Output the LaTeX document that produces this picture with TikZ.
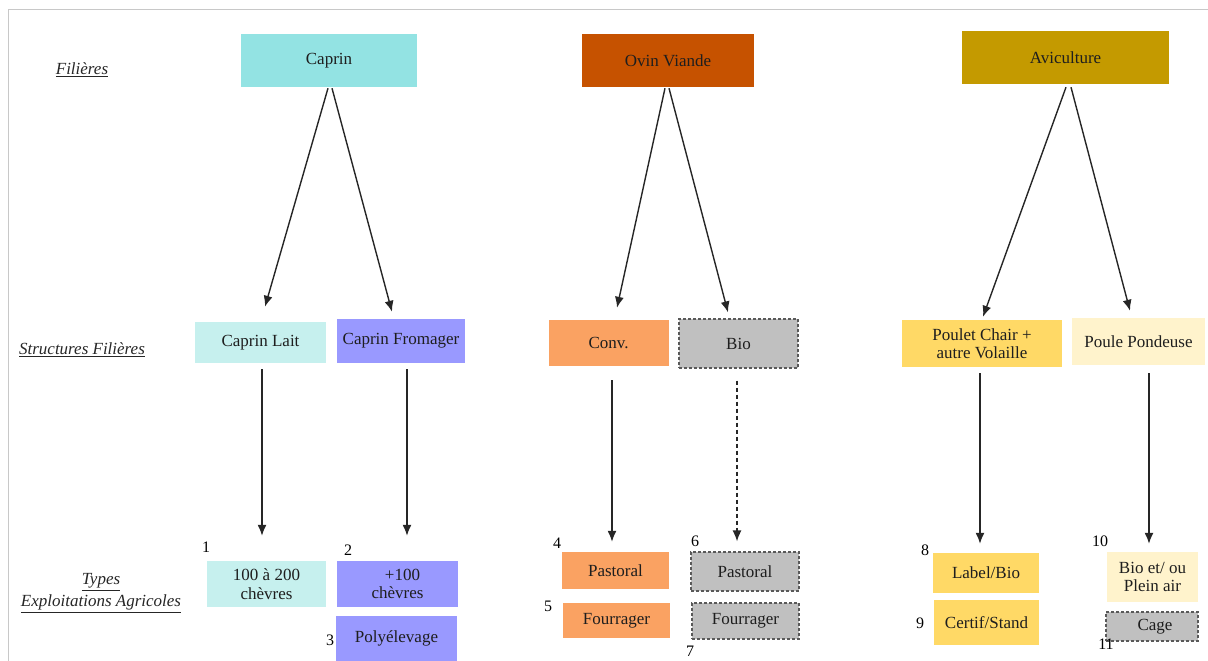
\documentclass[tikz,border=0pt]{standalone}
\usepackage{fontspec}
\setmainfont{Liberation Serif}
\usetikzlibrary{arrows.meta,calc}
\definecolor{cCaprin}{RGB}{147,227,227}
\definecolor{cOvin}{RGB}{198,82,0}
\definecolor{cAvi}{RGB}{196,154,0}
\definecolor{cLait}{RGB}{198,240,238}
\definecolor{cFrom}{RGB}{153,153,255}
\definecolor{cConv}{RGB}{250,162,98}
\definecolor{cGris}{RGB}{192,192,192}
\definecolor{cPoulet}{RGB}{255,217,102}
\definecolor{cPoule}{RGB}{255,243,204}
\definecolor{cFrame}{RGB}{200,200,200}
\definecolor{cText}{RGB}{30,30,30}
\tikzset{
  box/.style={rectangle, inner sep=0pt, align=center, draw=none,
    font=\fontsize{17}{18.5}\selectfont, text=cText},
  dbox/.style={box, fill=cGris, draw=black!65, line width=1.2pt,
    dash pattern=on 3pt off 2pt},
  lbl/.style={font=\fontsize{17}{18}\selectfont\itshape, text=black!85, align=center, inner sep=0pt},
  num/.style={font=\fontsize{16}{18}\selectfont, inner sep=0pt},
  arr/.style={-{Latex[length=11pt,width=9pt]}, line width=1.4pt, black!85},
  darr/.style={arr, dash pattern=on 4pt off 3pt},
  frame/.style={cFrame, line width=1pt}
}
\begin{document}
\begin{tikzpicture}[x=1pt,y=-1pt]
\useasboundingbox (0,0) rectangle (1208,661);
\draw[frame] (8,10) -- (1208,10);
\draw[frame] (8,10) -- (8,661);

% left labels
\node[lbl] (lfil) at (82,70) {\underline{Filières}};
\node[lbl] (lstr) at (82,350) {\underline{Structures Filières}};
\node[lbl] (ltyp) at (101,593) {\underline{Types}\\[4pt]\underline{Exploitations Agricoles}};

% top row
\node[box, fill=cCaprin, minimum width=176pt, minimum height=53pt] (caprin) at (329,60.5) {Caprin};
\node[box, fill=cOvin, minimum width=172pt, minimum height=53pt] (ovin) at (668,60.5) {Ovin Viande};
\node[box, fill=cAvi, minimum width=207pt, minimum height=53pt] (avi) at (1065.5,57.5) {Aviculture};

% middle row
\node[box, fill=cLait, minimum width=131pt, minimum height=41pt] (lait) at (260.5,342.5) {Caprin Lait};
\node[box, fill=cFrom, minimum width=128pt, minimum height=44pt] (from) at (401,341) {Caprin Fromager};
\node[box, fill=cConv, minimum width=120pt, minimum height=46pt] (conv) at (608.5,343) {Conv.};
\node[dbox, minimum width=119pt, minimum height=49pt] (bio) at (738.5,343.5) {Bio};
\node[box, fill=cPoulet, minimum width=160pt, minimum height=47pt] (poulet) at (982,343.5) {Poulet Chair +\\autre Volaille};
\node[box, fill=cPoule, minimum width=133pt, minimum height=47pt] (poule) at (1138.5,341.5) {Poule Pondeuse};

% bottom row
\node[box, fill=cLait, minimum width=119pt, minimum height=46pt] (t1) at (266.5,584) {100 à 200\\chèvres};
\node[box, fill=cFrom, minimum width=121pt, minimum height=46pt] (t2) at (397.5,584) {\hspace*{10pt}+100\\chèvres};
\node[box, fill=cFrom, minimum width=121pt, minimum height=45pt] (t3) at (396.5,638.5) {Polyélevage};
\node[box, fill=cConv, minimum width=107pt, minimum height=37pt] (t4) at (615.5,570.5) {Pastoral};
\node[box, fill=cConv, minimum width=107pt, minimum height=35pt] (t5) at (616.5,620.5) {Fourrager};
\node[dbox, minimum width=108pt, minimum height=39pt] (t6) at (745,571.5) {Pastoral};
\node[dbox, minimum width=107pt, minimum height=36pt] (t7) at (745.5,621) {Fourrager};
\node[box, fill=cPoulet, minimum width=106pt, minimum height=40pt] (t8) at (986,573) {Label/Bio};
\node[box, fill=cPoulet, minimum width=105pt, minimum height=45pt] (t9) at (986.5,622.5) {Certif/Stand};
\node[box, fill=cPoule, minimum width=91pt, minimum height=50pt] (t10) at (1152.5,577) {Bio et/ ou\\Plein air};
\node[dbox, minimum width=92pt, minimum height=29pt] (t11) at (1152,626.5) {\hspace*{6pt}Cage};

% numbers
\node[num] (n1) at (206,547) {1};
\node[num] (n2) at (348,550) {2};
\node[num] (n3) at (330,640) {3};
\node[num] (n4) at (557,543) {4};
\node[num] (n5) at (548,606) {5};
\node[num] (n6) at (695,541) {6};
\node[num] (n7) at (690,651) {7};
\node[num] (n8) at (925,550) {8};
\node[num] (n9) at (920,623) {9};
\node[num] (n10) at (1100,541) {10};
\node[num] (n11) at (1106,644) {11};

% diagonal arrows
\draw[arr] ($(caprin.south)+(-1,1)$) -- ($(lait.north)+(4.5,-15)$);
\draw[arr] ($(caprin.south)+(3,1)$) -- ($(from.north)+(-9,-7)$);
\draw[arr] ($(ovin.south)+(-3,1)$) -- ($(conv.north)+(8.5,-12)$);
\draw[arr] ($(ovin.south)+(1,1)$) -- ($(bio.north)+(-10.5,-6)$);
\draw[arr] ($(avi.south)+(0.5,3)$) -- ($(poulet.north)+(1,-3)$);
\draw[arr] ($(avi.south)+(5.5,3)$) -- ($(poule.north)+(-8.5,-7)$);

% vertical arrows
\draw[arr] ($(lait.south)+(1.5,6)$) -- ($(t1.north)+(-4.5,-25)$);
\draw[arr] ($(from.south)+(6,6)$) -- ($(t2.north)+(9.5,-25)$);
\draw[arr] ($(conv.south)+(3.5,14)$) -- ($(t4.north)+(-3.5,-10)$);
\draw[darr] ($(bio.south)+(-1.5,12)$) -- ($(t6.north)+(-8,-10)$);
\draw[arr] ($(poulet.south)+(-2,6)$) -- ($(t8.north)+(-6,-9)$);
\draw[arr] ($(poule.south)+(10.5,8)$) -- ($(t10.north)+(-3.5,-8)$);
\end{tikzpicture}
\end{document}
